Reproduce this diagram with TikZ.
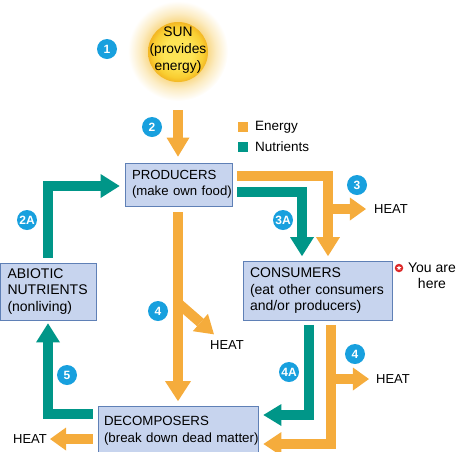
\documentclass[tikz,border=0pt]{standalone}
\usepackage{fontspec}
\setmainfont{Liberation Sans}
\usetikzlibrary{arrows.meta,calc,shapes.geometric}
\definecolor{energy}{RGB}{245,172,60}
\definecolor{nutri}{RGB}{0,150,136}
\definecolor{boxfill}{RGB}{199,212,238}
\definecolor{boxdraw}{RGB}{95,128,182}
\definecolor{numc}{RGB}{24,160,222}
\definecolor{glowin}{RGB}{249,218,140}
\definecolor{glowmid}{RGB}{252,236,195}
\definecolor{corein}{RGB}{253,228,85}
\definecolor{coremid}{RGB}{249,206,50}
\definecolor{coreout}{RGB}{243,182,35}
\definecolor{starred}{RGB}{220,40,40}
\pgfdeclareradialshading{sunglow}{\pgfpoint{0bp}{0bp}}{color(0bp)=(glowin); color(15bp)=(glowin); color(19bp)=(glowmid); color(25bp)=(white); color(50bp)=(white)}
\pgfdeclareradialshading{suncore}{\pgfpoint{0bp}{0bp}}{color(0bp)=(corein); color(12bp)=(corein); color(21bp)=(coremid); color(25bp)=(coreout); color(50bp)=(coreout)}
\tikzset{
  lbl/.style={inner sep=0pt, font=\fontsize{13.5}{16.5}\selectfont},
  box/.style={draw=boxdraw, fill=boxfill, line width=0.8pt, align=left, inner xsep=7pt, inner ysep=0pt},
  en/.style={draw=energy, line width=10pt, line join=miter, -{Triangle[width=24pt,length=19pt,line width=0pt]}},
  nu/.style={draw=nutri, line width=10pt, line join=miter, -{Triangle[width=24pt,length=19pt,line width=0pt]}},
  smallhead/.style={-{Triangle[width=23pt,length=16pt,line width=0pt]}},
  num/.style={circle, fill=numc, text=white, inner sep=0pt, minimum size=20pt, font=\bfseries\fontsize{12}{12}\selectfont},
  legsq/.style={minimum size=10pt, inner sep=0pt}
}
\begin{document}
\begin{tikzpicture}[x=1pt,y=-1pt]
\useasboundingbox (0,0) rectangle (458,451);
% sun
\shade[shading=sunglow] (178,51) circle (50);
\shade[shading=suncore] (178,52) circle (30);
\node[lbl, align=center, font=\fontsize{13.8}{17}\selectfont] (sun) at (178,50) {SUN\\(provides\\energy)};
\coordinate (sunray) at (178,110);
% boxes
\node[box, text width=93pt, minimum height=43pt, font=\fontsize{13.2}{16.5}\selectfont] (prod) at (178.5,184.5) {\mbox{PRODUCERS}\\\mbox{(make own food)}};
\node[box, text width=82pt, minimum height=57pt, font=\fontsize{14}{16.5}\selectfont] (abio) at (48.5,291.5) {\mbox{ABIOTIC}\\\mbox{NUTRIENTS}\\\mbox{(nonliving)}};
\node[box, text width=135pt, minimum height=59pt, font=\fontsize{14}{16.5}\selectfont] (cons) at (317.5,291) {\mbox{CONSUMERS}\\\mbox{(eat other consumers}\\\mbox{and/or producers)}};
\node[box, inner xsep=6pt, text width=148pt, minimum height=48pt, font=\fontsize{13.3}{16.5}\selectfont] (decomp) at (178,430.5) {\mbox{DECOMPOSERS}\\\mbox{(break down dead matter)}};
% heat labels
\node[lbl, font=\fontsize{13}{16}\selectfont] (heat3) at (391,209) {HEAT};
\node[lbl, font=\fontsize{13}{16}\selectfont] (heat4) at (227,345) {HEAT};
\node[lbl, font=\fontsize{13}{16}\selectfont] (heat4r) at (393,379) {HEAT};
\node[lbl, font=\fontsize{13}{16}\selectfont] (heat5) at (30,439) {HEAT};
% legend
\node[legsq, fill=energy] (lege) at (243,127) {};
\node[legsq, fill=nutri] (legn) at (243,147) {};
\node[lbl, anchor=west] (legetxt) at (255,127) {Energy};
\node[lbl, anchor=west] (legntxt) at (255,147) {Nutrients};
% you are here
\node[lbl, align=center, font=\fontsize{14}{16}\selectfont] (here) at (432,276) {You are\\here};
\node[circle, fill=starred, inner sep=0pt, minimum size=8.5pt] (star) at (399,268) {};
\node[star, star points=5, star point ratio=2.2, fill=white, inner sep=0pt, minimum size=5pt] (starin) at (star) {};
% flows
\draw[en, -{Triangle[width=23pt,length=19pt,line width=0pt]}] (sunray) -- ($(prod.north)+(-0.5,-6)$);
\draw[en] ($(prod.east)+(5,-8.5)$) -| ($(cons.north)+(10.5,-5)$);
\draw[nu] ($(prod.east)+(5,7.5)$) -| ($(cons.north)+(-15.5,-5)$);
\coordinate (b3) at (328,209);
\draw[en, smallhead] (b3) -- ([xshift=-8pt]heat3.west);
\draw[en, -{Triangle[width=26pt,length=20pt,line width=0pt]}] ($(prod.south)+(-0.5,6)$) -- ($(prod.south |- decomp.north)+(-0.5,-5)$);
\coordinate (b4) at (178,303);
\draw[en, -{Triangle[width=23pt,length=18pt,line width=0pt]}] (b4) -- ($(heat4.north west)+(4,-6)$);
\draw[nu] ($(abio.north)+(-0.5,-5)$) |- ($(prod.west)+(-5,1.5)$);
\draw[nu] ($(decomp.west)+(-5,-16.5)$) -| ($(abio.south)+(-0.5,3)$);
\draw[en, smallhead] ($(decomp.west)+(-5,8.5)$) -- ([xshift=3pt]heat5.east);
\draw[nu, -{Triangle[width=22pt,length=18pt,line width=0pt]}] ($(cons.south)+(-8.5,4)$) |- ($(decomp.east)+(5,-15.5)$);
\draw[en, -{Triangle[width=24pt,length=18pt,line width=0pt]}] ($(cons.south)+(13.5,4)$) |- ($(decomp.east)+(5,13.5)$);
\coordinate (b4r) at (331,379);
\draw[en, smallhead] (b4r) -- ([xshift=-7pt]heat4r.west);
% number badges
\node[num] (n1) at (107,49) {1};
\node[num] (n2) at (152,127) {2};
\node[num] (n2a) at (27,220) {2A};
\node[num] (n3) at (357,185) {3};
\node[num] (n3a) at (283,220) {3A};
\node[num] (n4) at (158,311) {4};
\node[num] (n4r) at (355,354) {4};
\node[num] (n4a) at (289,372) {4A};
\node[num] (n5) at (67,375) {5};
\end{tikzpicture}
\end{document}
